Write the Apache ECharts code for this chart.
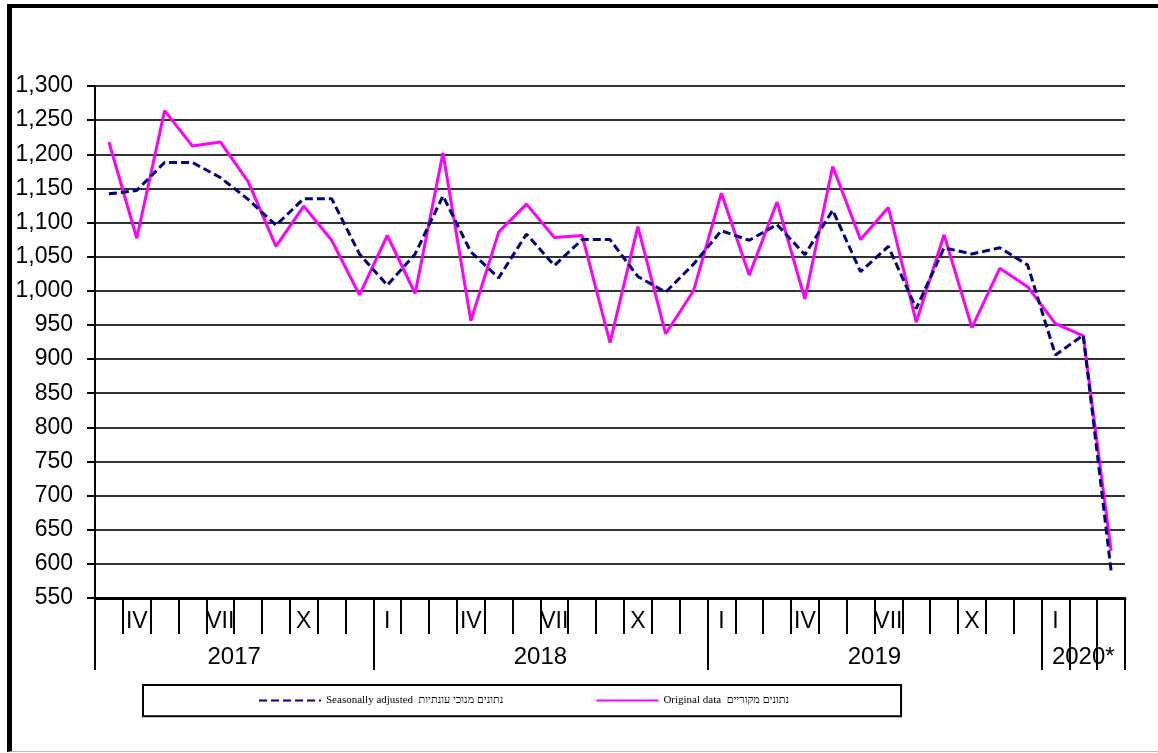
<!DOCTYPE html>
<html>
<head>
<meta charset="utf-8">
<script src="https://cdn.jsdelivr.net/npm/echarts@6/dist/echarts.min.js"></script>
<style>
  html, body { margin: 0; padding: 0; background: #fff; }
  #chart { position: absolute; left: 0; top: 0; width: 1158px; height: 753px; }
  #frame {
    position: absolute; left: 7px; top: 4px; width: 1160px; height: 748px;
    border-top: 4px solid #000; border-left: 5px solid #000; border-bottom: 1px solid #bbb;
    box-sizing: border-box; pointer-events: none;
  }
</style>
</head>
<body>
<div id="chart"></div>
<div id="frame"></div>
<script>
// months from III/2017 to III/2020
const monthLabels = [
  "", "IV", "", "", "VII", "", "", "X", "", "",
  "I", "", "", "IV", "", "", "VII", "", "", "X", "", "",
  "I", "", "", "IV", "", "", "VII", "", "", "X", "", "",
  "I", "", ""
];
const seasonallyAdjusted = [
  1142, 1147, 1188, 1188, 1166, 1134, 1096, 1135, 1135, 1054,
  1008, 1054, 1139, 1057, 1019, 1083, 1037, 1075, 1075, 1021, 998, 1039,
  1088, 1074, 1097, 1053, 1118, 1028, 1065, 974, 1063, 1054, 1063, 1038,
  906, 935, 590
];
const originalData = [
  1218, 1077, 1264, 1212, 1218, 1160, 1065, 1124, 1074, 994,
  1081, 996, 1202, 956, 1086, 1127, 1078, 1081, 924, 1094, 937, 1000,
  1143, 1023, 1130, 988, 1182, 1075, 1122, 954, 1082, 946, 1033, 1006,
  952, 934, 619
];
// year axis on half-month steps: label at the middle of each year, tick at borders
const yearLabels = { 10: "2017", 32: "2018", 56: "2019", 71: "2020*" };
const yearTicks = [0, 20, 44, 68, 70, 72, 74];

const seriesNames = ["Seasonally adjusted  נתונים מנוכי עונתיות", "Original data  נתונים מקוריים"];

let halfMonths = [];
for (let i = 0; i <= 74; i++) halfMonths.push(yearLabels[i] || "");

const font = "Liberation Sans";
let chart = echarts.init(document.getElementById("chart"));
chart.setOption({
  animation: false,
  grid: { left: 95, right: 33, top: 86, bottom: 155 },
  legend: {
    data: seriesNames,
    left: 143,
    top: 685,
    orient: "horizontal",
    padding: [10, 112, 10, 115],
    itemGap: 92,
    itemWidth: 62,
    itemHeight: 14,
    borderColor: "#000",
    borderWidth: 2,
    itemStyle: { opacity: 0 },
    textStyle: { fontFamily: "Liberation Serif", fontSize: 11, color: "#000" }
  },
  xAxis: [
    {
      // month labels
      type: "category",
      data: monthLabels,
      boundaryGap: true,
      axisLine: { lineStyle: { color: "#000", width: 3 } },
      axisTick: { show: false },
      axisLabel: { interval: 0, margin: 12, fontFamily: font, fontSize: 23, color: "#000" }
    },
    {
      // short month ticks
      type: "category",
      data: halfMonths.map(function () { return ""; }),
      boundaryGap: false,
      position: "bottom",
      axisLine: { show: false },
      axisTick: {
        interval: function (index) { return index % 2 === 0; },
        length: 36,
        lineStyle: { color: "#000", width: 2 }
      },
      axisLabel: { show: false }
    },
    {
      // year labels and long ticks
      type: "category",
      data: halfMonths,
      boundaryGap: false,
      position: "bottom",
      axisLine: { show: false },
      axisTick: {
        interval: function (index) { return yearTicks.indexOf(index) >= 0; },
        length: 72,
        lineStyle: { color: "#000", width: 2 }
      },
      axisLabel: { interval: 0, margin: 47, fontFamily: font, fontSize: 24, color: "#000" }
    }
  ],
  yAxis: {
    type: "value",
    min: 550,
    max: 1300,
    interval: 50,
    axisLine: { show: true, lineStyle: { color: "#000", width: 2 } },
    axisTick: { show: true, length: 8, lineStyle: { color: "#000", width: 2 } },
    axisLabel: {
      margin: 22,
      fontFamily: font,
      fontSize: 23,
      color: "#000",
      formatter: function (v) { return v.toLocaleString("en-US"); }
    },
    splitLine: { lineStyle: { color: "#333", width: 2 } }
  },
  series: [
    {
      name: seriesNames[1],
      type: "line",
      xAxisIndex: 0,
      data: originalData,
      symbol: "none",
      lineStyle: { color: "#ff00ff", width: 3 },
      itemStyle: { color: "#ff00ff" }
    },
    {
      name: seriesNames[0],
      type: "line",
      xAxisIndex: 0,
      data: seasonallyAdjusted,
      symbol: "none",
      lineStyle: { color: "#000080", width: 3, type: [8, 4] },
      itemStyle: { color: "#000080" }
    }
  ]
});
</script>
</body>
</html>
